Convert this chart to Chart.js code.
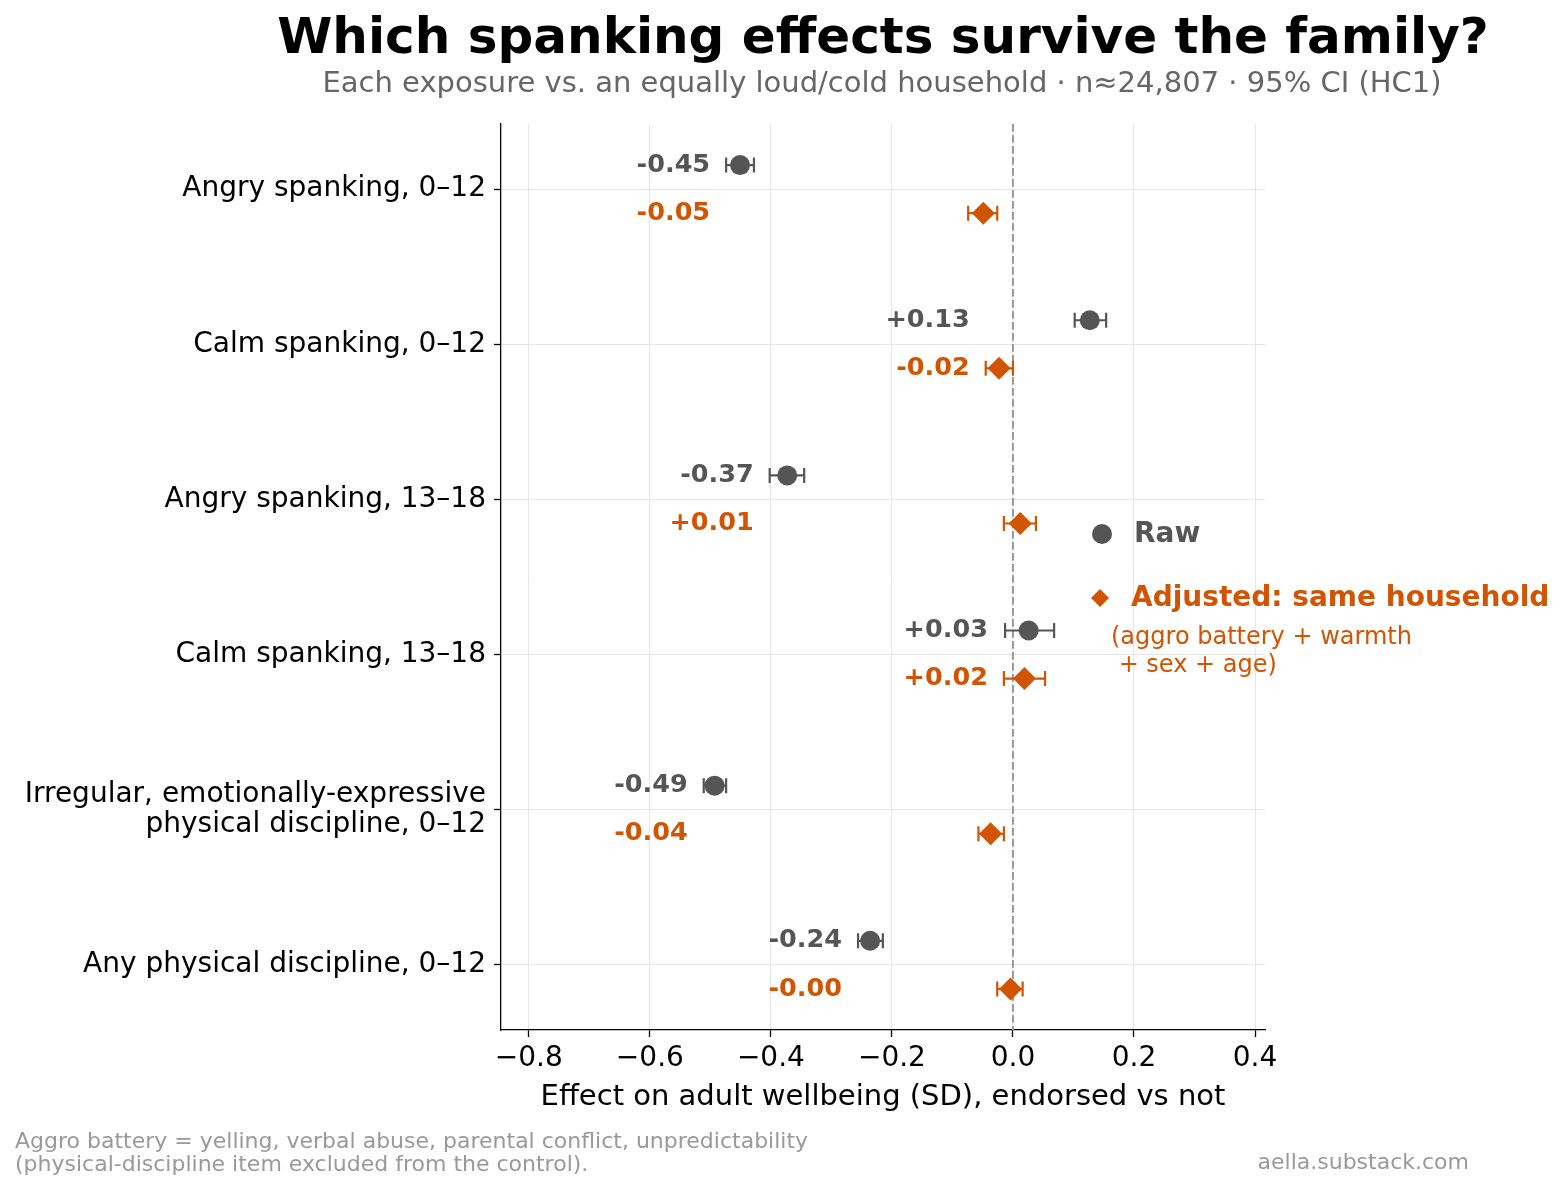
<!DOCTYPE html>
<html>
<head>
<meta charset="utf-8">
<script src="https://cdn.jsdelivr.net/npm/chart.js@4.4.1/dist/chart.umd.min.js"></script>
<style>
html, body { margin: 0; padding: 0; background: #fff; }
#wrap { width: 1567px; height: 1191px; position: relative; }
</style>
</head>
<body>
<div id="wrap"><canvas id="forestChart"></canvas></div>
<script>
// exposures, top to bottom
var categories = [
    "Angry spanking, 0\u201312",
    "Calm spanking, 0\u201312",
    "Angry spanking, 13\u201318",
    "Calm spanking, 13\u201318",
    ["Irregular, emotionally-expressive", "physical discipline, 0\u201312"],
    "Any physical discipline, 0\u201312"
];

// raw effect (SD) with 95% CI
var rawEffect = [-0.451, 0.127, -0.373, 0.026, -0.493, -0.236];
var rawLow    = [-0.474, 0.102, -0.402, -0.013, -0.511, -0.256];
var rawHigh   = [-0.428, 0.154, -0.345, 0.068, -0.474, -0.215];

// adjusted for same household
var adjEffect = [-0.049, -0.023, 0.012, 0.019, -0.037, -0.004];
var adjLow    = [-0.074, -0.045, -0.015, -0.015, -0.057, -0.026];
var adjHigh   = [-0.026, 0.000, 0.038, 0.053, -0.015, 0.016];

var xTicks = [-0.8, -0.6, -0.4, -0.2, 0.0, 0.2, 0.4];

var GRAY = "#555555";
var ORANGE = "#d35400";
var FONT = "'DejaVu Sans', sans-serif";
var ROW_OFFSET = 0.155;

function fmt(v) {
    return (v >= 0 ? "+" : "-") + Math.abs(v).toFixed(2);
}

var rawPoints = rawEffect.map(function (v, i) { return { x: v, y: i - ROW_OFFSET }; });
var adjPoints = adjEffect.map(function (v, i) { return { x: v, y: i + ROW_OFFSET }; });

var decorations = {
    id: "decorations",
    beforeDatasetsDraw: function (chart) {
        var ctx = chart.ctx, xs = chart.scales.x, ys = chart.scales.y, area = chart.chartArea;
        // zero line
        ctx.save();
        ctx.strokeStyle = "#999999";
        ctx.lineWidth = 2;
        ctx.setLineDash([7.7, 3.3]);
        var x0 = xs.getPixelForValue(0);
        ctx.beginPath();
        ctx.moveTo(x0, area.top);
        ctx.lineTo(x0, area.bottom);
        ctx.stroke();
        ctx.restore();

        // error bars
        function bars(lo, hi, offset, color) {
            ctx.save();
            ctx.strokeStyle = color;
            ctx.lineWidth = 2.2;
            for (var i = 0; i < lo.length; i++) {
                var y = ys.getPixelForValue(i + offset);
                var a = xs.getPixelForValue(lo[i]), b = xs.getPixelForValue(hi[i]);
                ctx.beginPath();
                ctx.moveTo(a, y); ctx.lineTo(b, y);
                ctx.moveTo(a, y - 7.5); ctx.lineTo(a, y + 7.5);
                ctx.moveTo(b, y - 7.5); ctx.lineTo(b, y + 7.5);
                ctx.stroke();
            }
            ctx.restore();
        }
        bars(rawLow, rawHigh, -ROW_OFFSET, GRAY);
        bars(adjLow, adjHigh, ROW_OFFSET, ORANGE);

        // value labels, right-aligned left of the leftmost CI
        ctx.save();
        ctx.font = "bold 25.5px " + FONT;
        ctx.textAlign = "right";
        ctx.textBaseline = "middle";
        for (var i = 0; i < categories.length; i++) {
            var lx = xs.getPixelForValue(Math.min(rawLow[i], adjLow[i])) - 16;
            ctx.fillStyle = GRAY;
            ctx.fillText(fmt(rawEffect[i]), lx, ys.getPixelForValue(i - ROW_OFFSET));
            ctx.fillStyle = ORANGE;
            ctx.fillText(fmt(adjEffect[i]), lx, ys.getPixelForValue(i + ROW_OFFSET));
        }
        ctx.restore();
    },
    afterDraw: function (chart) {
        var ctx = chart.ctx;
        ctx.save();
        ctx.textBaseline = "middle";

        ctx.textAlign = "center";
        ctx.fillStyle = "#000";
        ctx.font = "bold 50px " + FONT;
        ctx.fillText("Which spanking effects survive the family?", 883, 40);
        ctx.fillStyle = "#666666";
        ctx.font = "29px " + FONT;
        ctx.fillText("Each exposure vs. an equally loud/cold household \u00b7 n\u224824,807 \u00b7 95% CI (HC1)", 882, 84);

        ctx.fillStyle = "#000";
        ctx.font = "29px " + FONT;
        ctx.fillText("Effect on adult wellbeing (SD), endorsed vs not", 883, 1097);

        // legend
        ctx.textAlign = "left";
        ctx.fillStyle = GRAY;
        ctx.beginPath();
        ctx.arc(1102, 534, 10, 0, Math.PI * 2);
        ctx.fill();
        ctx.font = "bold 28px " + FONT;
        ctx.fillText("Raw", 1134, 535);

        ctx.fillStyle = ORANGE;
        ctx.beginPath();
        ctx.moveTo(1100, 589); ctx.lineTo(1109, 598); ctx.lineTo(1100, 607); ctx.lineTo(1091, 598);
        ctx.closePath();
        ctx.fill();
        ctx.fillText("Adjusted: same household", 1131, 599);
        ctx.font = "24px " + FONT;
        ctx.fillText("(aggro battery + warmth", 1111, 638);
        ctx.fillText(" + sex + age)", 1111, 666);

        // footer
        ctx.fillStyle = "#999999";
        ctx.font = "22px " + FONT;
        ctx.fillText("Aggro battery = yelling, verbal abuse, parental conflict, unpredictability", 15, 1142);
        ctx.fillText("(physical-discipline item excluded from the control).", 15, 1165);
        ctx.textAlign = "right";
        ctx.fillText("aella.substack.com", 1469, 1163);
        ctx.restore();
    }
};

var forestChart = new Chart(document.getElementById("forestChart").getContext("2d"), {
    type: "scatter",
    data: {
        datasets: [{
            label: "Raw",
            data: rawPoints,
            backgroundColor: GRAY,
            borderColor: GRAY,
            pointStyle: "circle",
            pointRadius: 10,
            pointHoverRadius: 10,
            borderWidth: 0
        }, {
            label: "Adjusted: same household",
            data: adjPoints,
            backgroundColor: ORANGE,
            borderColor: ORANGE,
            pointStyle: "rectRot",
            pointRadius: 11.5,
            pointHoverRadius: 11.5,
            borderWidth: 0
        }]
    },
    options: {
        responsive: true,
        maintainAspectRatio: false,
        animation: false,
        layout: { padding: { left: 0, top: 124, right: 302, bottom: 61 } },
        plugins: { legend: { display: false }, tooltip: { enabled: false } },
        scales: {
            x: {
                type: "linear",
                min: -0.846,
                max: 0.4165,
                afterFit: function (s) { s.height = 100; },
                afterBuildTicks: function (s) { s.ticks = xTicks.map(function (v) { return { value: v }; }); },
                ticks: {
                    color: "#000",
                    font: { family: FONT, size: 28 },
                    padding: 5,
                    maxRotation: 0,
                    callback: function (v) { return v.toFixed(1).replace("-", "\u2212"); }
                },
                grid: { color: "#e6e6e6", lineWidth: 1, tickColor: "#000", tickLength: 7, tickWidth: 1.3 },
                border: { display: true, color: "#000", width: 1.3 }
            },
            y: {
                type: "linear",
                reverse: true,
                min: -0.42,
                max: 5.42,
                afterFit: function (s) { s.width = 501; },
                afterBuildTicks: function (s) { s.ticks = categories.map(function (c, i) { return { value: i }; }); },
                ticks: {
                    color: "#000",
                    font: { family: FONT, size: 28, lineHeight: 1.1 },
                    padding: 8,
                    callback: function (v) { return categories[v]; }
                },
                grid: { color: "#e6e6e6", lineWidth: 1, tickColor: "#000", tickLength: 7, tickWidth: 1.3 },
                border: { display: true, color: "#000", width: 1.3 }
            }
        }
    },
    plugins: [decorations]
});
</script>
</body>
</html>
